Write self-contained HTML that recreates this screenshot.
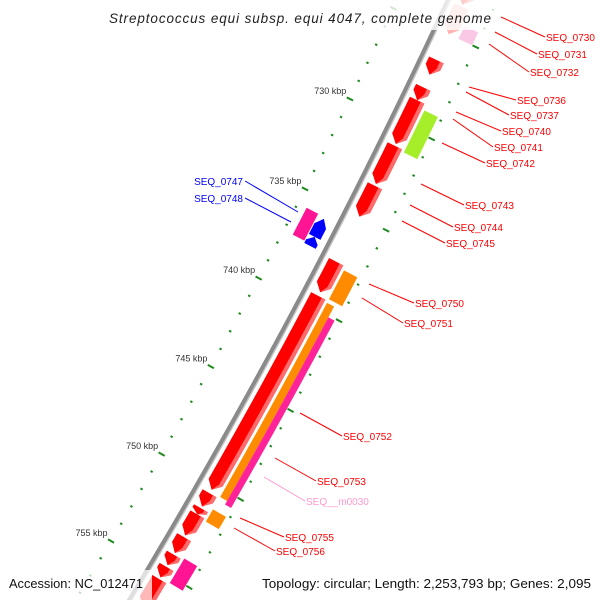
<!DOCTYPE html>
<html><head><meta charset="utf-8"><style>
html,body{margin:0;padding:0;background:#fff;width:600px;height:600px;overflow:hidden;}
svg{display:block;font-family:"Liberation Sans",sans-serif;}
</style></head><body>
<svg id="map" width="600" height="600" viewBox="0 0 600 600">
<g id="ticks"></g>
<g id="backbone"></g>
<g id="genes"></g>
<g id="labels"></g>
<rect x="104" y="0" width="392" height="30" fill="#fff" fill-opacity="0.8"/>
<text x="300" y="23" text-anchor="middle" font-style="italic" font-size="13.5" fill="#222" textLength="382" lengthAdjust="spacing">Streptococcus equi subsp. equi 4047, complete genome</text>
<rect x="0" y="570" width="152" height="30" fill="#fff" fill-opacity="0.72"/>
<text x="9" y="588" font-size="13" fill="#111" textLength="134" lengthAdjust="spacingAndGlyphs">Accession: NC_012471</text>
<rect x="254" y="570" width="346" height="30" fill="#fff" fill-opacity="0.72"/>
<text x="262" y="588" font-size="13" fill="#111" textLength="329" lengthAdjust="spacingAndGlyphs">Topology: circular; Length: 2,253,793 bp; Genes: 2,095</text>
</svg>
<script>
const geneNames=["g0729","SEQ_0730","SEQ_0731","SEQ_0732","SEQ_0736","SEQ_0737","SEQ_0740","SEQ_0743","SEQ_0744","SEQ_0745","SEQ_0747","SEQ_0748a","SEQ_0748b","SEQ_0750","SEQ_0750b","SEQ_0751","SEQ_0752","SEQ_m0030","g0753a","g0753b","g0754","SEQ_0755","SEQ_0756","g0757","g0758","g0759","g0760"];
const geneStart=[719,723.5,724.3,726.4,727.9,728.6,731.1,733.3,737.5,739.4,735.8,735.9,736.9,737.7,739.5,740.1,750.5,751.1,751.35,751.7,753.0,754.0,754.7,755.4,753.9,728.9,757.1];
const geneEnd=[723.4,725.0,725.0,727.2,728.6,731.0,733.2,735.0,739.2,750.3,737.3,736.9,737.4,739.3,750.4,750.6,751.25,751.8,751.7,752.9,753.9,754.6,755.3,757.0,755.3,731.2,758.5];
const geneRing=["red","redfade","outerfade","red","red","red","red","red","red","red","innerpink","innerblue","innerblue","outer","orange","pink","red","outer","red","red","red","red","red","red","outer","outer","red"];
const geneColor=["#ff0000","#ffb3b3","#f8c8e4","#ff0000","#ff0000","#ff0000","#ff0000","#ff0000","#ff0000","#ff0000","#ff1493","#0000ff","#0000ff","#ff8c00","#ff8c00","#ff2299","#ff0000","#ff8c00","#ff0000","#ff0000","#ff0000","#ff0000","#ff0000","#ff0000","#ff1493","#a6ee2a","#ff0000"];
const geneDir=[1,1,0,1,1,1,1,1,1,1,0,-1,-1,0,0,0,1,0,1,1,1,1,1,1,0,0,1];
const tickMajor=[715,720,725,730,735,740,745,750,755,760];
const tickLabels=["715 kbp","720 kbp","725 kbp","730 kbp","735 kbp","740 kbp","745 kbp","750 kbp","755 kbp","760 kbp"];

const CX=-5207,CY=-2619,R0=6232,T0=0.4874,DT=0.00325;
const ringR={red:[7,23],redfade:[7,23],outer:[26,41],outerfade:[26,41],orange:[26,34],pink:[34,41],innerpink:[-36,-23],innerblue:[-22,-9]};
function P(k,off){const t=T0+(k-740)*DT;const r=R0+off;return [CX+r*Math.cos(t),CY+r*Math.sin(t)];}
const NS="http://www.w3.org/2000/svg";
function mk(tag,attrs,parent){const e=document.createElementNS(NS,tag);for(const a in attrs)e.setAttribute(a,attrs[a]);parent.appendChild(e);return e;}
function arcPts(k1,k2,off){const pts=[];const n=Math.max(2,Math.ceil(Math.abs(k2-k1)/0.25));for(let i=0;i<=n;i++){pts.push(P(k1+(k2-k1)*i/n,off));}return pts;}
const fmt=p=>p.map(q=>q[0].toFixed(2)+","+q[1].toFixed(2)).join(" ");

const bb=document.getElementById("backbone");
const bl=mk("polyline",{points:fmt(arcPts(712,762,0)),fill:"none",stroke:"#8a8a8a","stroke-width":4.5},bb);


const bl2=mk("polyline",{points:fmt(arcPts(712,762,2.4)),fill:"none",stroke:"#c4c4c4","stroke-width":1.4},bb);



const tg=document.getElementById("ticks");
for(let k=712;k<=762;k++){
  const major=(k%5===0);
  [-46,45].forEach(off=>{
    const h=major?3.5:1.2;
    const a=P(k,off-h),b=P(k,off+h);
    const ln=mk("line",{x1:a[0],y1:a[1],x2:b[0],y2:b[1],stroke:"#1f8a1f","stroke-width":2},tg);
    
    
  });
}
tickMajor.forEach((k,i)=>{
  const p=P(k,-50);
  if(p[1]<35||p[1]>570)return;
  const t=mk("text",{x:p[0],y:p[1]-3,"text-anchor":"end","font-size":"9",fill:"#333"},tg);
  t.textContent=tickLabels[i];
  
  
});

const gg=document.getElementById("genes");
geneStart.forEach((s,i)=>{
  const e=geneEnd[i];const r=ringR[geneRing[i]];const d=geneDir[i];
  const head=Math.min(0.4,(e-s)*0.6);const mid=(r[0]+r[1])/2;
  let pts;
  if(d===1){pts=arcPts(s,e-head,r[0]).concat([P(e,mid)]).concat(arcPts(e-head,s,r[1]));}
  else if(d===-1){pts=[P(s,mid)].concat(arcPts(s+head,e,r[0])).concat(arcPts(e,s+head,r[1]));}
  else{pts=arcPts(s,e,r[0]).concat(arcPts(e,s,r[1]));}
  const pg=mk("polygon",{points:fmt(pts),fill:geneColor[i]},gg);
  
  
  if(geneColor[i]==="#ff0000"){
    const o=r[1]-4;
    let sp;
    if(d===1){sp=arcPts(s,e-head,o).concat([P(e,mid)]).concat(arcPts(e-head,s,r[1]));}
    else{sp=arcPts(s,e,o).concat(arcPts(e,s,r[1]));}
    const sh=mk("polygon",{points:fmt(sp),fill:"#ff6a6a"},gg);
    
    
  }
});

const labelText=["SEQ_0730","SEQ_0731","SEQ_0732","SEQ_0736","SEQ_0737","SEQ_0740","SEQ_0741","SEQ_0742","SEQ_0743","SEQ_0744","SEQ_0745","SEQ_0750","SEQ_0751","SEQ_0752","SEQ_0753","SEQ__m0030","SEQ_0755","SEQ_0756","SEQ_0747","SEQ_0748"];
const labelColor=["#f00","#f00","#f00","#f00","#f00","#f00","#f00","#f00","#f00","#f00","#f00","#f00","#f00","#f00","#f00","#ff99cc","#f00","#f00","#00f","#00f"];
const labelX=[546,538,530,517,510,502,494,486,465,454,446,415,404,343,317,306,285,276,243,243];
const labelY=[41,58,76,104,119,135,151,167,209,231,247,307,327,440,485,505,541,555,185,202];
const lineX=[501,495,489,469,466,456,453,442,421,410,402,369,362,300,275,264,240,234,298,291];
const lineY=[17,32,44,87,92,112,119,143,184,205,221,284,298,413,458,477,518,528,212,222];
const lg=document.getElementById("labels");
labelText.forEach((t,i)=>{
  const left=labelColor[i]==="#00f";
  const ex=left?labelX[i]+2:labelX[i]-1;
  const ln=mk("line",{x1:lineX[i],y1:lineY[i],x2:ex,y2:labelY[i]-4,stroke:labelColor[i],"stroke-width":1},lg);
  
  
  const tx=mk("text",{x:labelX[i],y:labelY[i],"font-size":"10",fill:labelColor[i],"text-anchor":left?"end":"start"},lg);
  tx.textContent=t;
  
  
});
</script>
</body></html>
